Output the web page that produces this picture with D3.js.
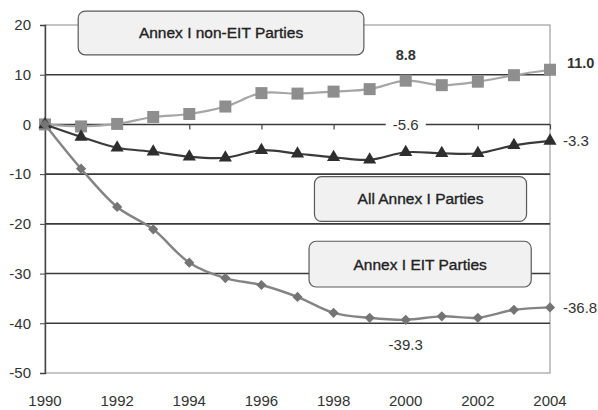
<!DOCTYPE html>
<html lang="en">
<head>
    <meta charset="utf-8">
    <script src="https://d3js.org/d3.v7.min.js"></script>
    <style>
        body { margin: 0; background: #fff; }
        text { font-family: "Liberation Sans", Arial, sans-serif; }
    </style>
</head>
<body>
    <div id="graph"></div>
    <script>
        // data
        var years = [1990, 1991, 1992, 1993, 1994, 1995, 1996, 1997, 1998, 1999, 2000, 2001, 2002, 2003, 2004];
        var nonEit = [0, -0.4, 0.1, 1.5, 2.1, 3.6, 6.3, 6.2, 6.6, 7.1, 8.8, 7.9, 8.6, 9.9, 11.0];
        var allAnnex = [0, -2.5, -4.7, -5.5, -6.5, -6.7, -5.2, -5.9, -6.6, -7.1, -5.6, -5.8, -5.8, -4.2, -3.3];
        var eit = [0, -8.9, -16.6, -21.1, -27.8, -30.9, -32.3, -34.7, -37.9, -38.9, -39.3, -38.6, -38.9, -37.3, -36.8];
        var yTicks = [20, 10, 0, -10, -20, -30, -40, -50];
        var xTicks = [1990, 1992, 1994, 1996, 1998, 2000, 2002, 2004];

        var width = 598,
            height = 410,
            margin = { top: 25, right: 48, bottom: 37, left: 45 };

        var svg = d3.select("#graph").append("svg")
            .attr("width", width)
            .attr("height", height);

        var x = d3.scaleLinear()
            .domain([1990, 2004])
            .range([margin.left, width - margin.right]);

        var y = d3.scaleLinear()
            .domain([-50, 20])
            .range([height - margin.bottom, margin.top]);

        // plot frame (light) and gridlines (dark)
        svg.append("rect")
            .attr("x", x(1990)).attr("y", y(20))
            .attr("width", x(2004) - x(1990)).attr("height", y(-50) - y(20))
            .attr("fill", "none").attr("stroke", "#a0a0a0").attr("stroke-width", 1.2);

        svg.append("g")
            .selectAll("line")
            .data(yTicks.filter(d => d < 20 && d > -50))
            .enter().append("line")
            .attr("x1", x(1990)).attr("x2", x(2004))
            .attr("y1", d => y(d)).attr("y2", d => y(d))
            .attr("stroke", "#3a3a3a").attr("stroke-width", 1.6);

        // y axis, plain hyphen for negatives like the original
        var yAxis = svg.append("g")
            .attr("transform", "translate(" + x(1990) + ",0)")
            .call(d3.axisLeft(y).tickValues(yTicks).tickSize(5).tickPadding(9).tickFormat(d => String(d)));
        yAxis.select(".domain").attr("stroke", "#444").attr("stroke-width", 1.4);
        yAxis.selectAll(".tick line").attr("stroke", "#444");
        yAxis.selectAll("text").attr("font-size", 15).attr("fill", "#333")
            .style("font-family", "'Liberation Sans', Arial, sans-serif");

        // x axis ticks along the zero line, labels at the bottom
        var xAxis = svg.append("g")
            .attr("transform", "translate(0," + y(0) + ")")
            .call(d3.axisBottom(x).tickValues(xTicks).tickSize(5).tickFormat(""));
        xAxis.select(".domain").remove();
        xAxis.selectAll(".tick line").attr("stroke", "#444").attr("stroke-width", 1.2);

        svg.append("g")
            .selectAll("text")
            .data(xTicks)
            .enter().append("text")
            .attr("x", d => x(d))
            .attr("y", height - 4)
            .attr("text-anchor", "middle")
            .attr("font-size", 15)
            .attr("fill", "#333")
            .text(d => d);

        var line = d3.line()
            .x((d, i) => x(years[i]))
            .y(d => y(d))
            .curve(d3.curveCatmullRom.alpha(0.5));

        // non-EIT series: squares
        svg.append("path")
            .datum(nonEit)
            .attr("d", line)
            .attr("fill", "none").attr("stroke", "#a6a6a6").attr("stroke-width", 2.2);
        svg.append("g")
            .selectAll("rect")
            .data(nonEit)
            .enter().append("rect")
            .attr("x", (d, i) => x(years[i]) - 6)
            .attr("y", d => y(d) - 6)
            .attr("width", 12).attr("height", 12)
            .attr("fill", "#8e8e8e");

        // all Annex I: triangles
        svg.append("path")
            .datum(allAnnex)
            .attr("d", line)
            .attr("fill", "none").attr("stroke", "#3a3a3a").attr("stroke-width", 2.2);
        svg.append("g")
            .selectAll("path")
            .data(allAnnex)
            .enter().append("path")
            .attr("d", d3.symbol().type(d3.symbolTriangle).size(75))
            .attr("transform", (d, i) => "translate(" + x(years[i]) + "," + y(d) + ")")
            .attr("fill", "#2e2e2e");

        // EIT: diamonds
        svg.append("path")
            .datum(eit)
            .attr("d", line)
            .attr("fill", "none").attr("stroke", "#848484").attr("stroke-width", 2.4);
        svg.append("g")
            .selectAll("path")
            .data(eit)
            .enter().append("path")
            .attr("d", d3.symbol().type(d3.symbolSquare).size(52))
            .attr("transform", (d, i) => "translate(" + x(years[i]) + "," + y(d) + ") rotate(45)")
            .attr("fill", "#747474");

        // value labels
        var labels = [
            { t: "8.8", yr: 2000, v: nonEit[10], dy: -26, anchor: "middle", bold: true },
            { t: "11.0", yr: 2004, v: nonEit[14], dy: -7, dx: 17, anchor: "start", bold: true },
            { t: "-3.3", yr: 2004, v: allAnnex[14], dy: 0, dx: 13, anchor: "start" },
            { t: "-36.8", yr: 2004, v: eit[14], dy: 0, dx: 13, anchor: "start" },
            { t: "-39.3", yr: 2000, v: eit[10], dy: 25, anchor: "middle" }
        ];
        svg.append("g")
            .selectAll("text")
            .data(labels)
            .enter().append("text")
            .attr("x", d => x(d.yr) + (d.dx || 0))
            .attr("y", d => y(d.v) + d.dy)
            .attr("dy", "0.35em")
            .attr("text-anchor", d => d.anchor)
            .attr("font-size", d => d.bold ? 14.5 : 15)
            .attr("font-weight", d => d.bold ? "bold" : "normal")
            .attr("fill", "#333")
            .text(d => d.t);

        // -5.6 sits on the zero line with a white patch behind it
        var g56 = svg.append("g").attr("transform", "translate(" + x(2000) + "," + y(0) + ")");
        g56.append("rect").attr("x", -20).attr("y", -8).attr("width", 40).attr("height", 16).attr("fill", "#fff");
        g56.append("text").attr("text-anchor", "middle").attr("dy", "0.35em")
            .attr("font-size", 15).attr("fill", "#333").text("-5.6");

        // series name boxes
        var boxes = [
            { t: "Annex I non-EIT Parties", x0: 1990.92, x1: 1998.84, v0: 22.8, v1: 14 },
            { t: "All Annex I Parties", x0: 1997.47, x1: 2003.35, v0: -10.5, v1: -19.5 },
            { t: "Annex I EIT Parties", x0: 1997.32, x1: 2003.48, v0: -23.5, v1: -32.7 }
        ];
        var bg = svg.append("g")
            .selectAll("g")
            .data(boxes)
            .enter().append("g");
        bg.append("rect")
            .attr("x", d => x(d.x0)).attr("y", d => y(d.v0))
            .attr("width", d => x(d.x1) - x(d.x0)).attr("height", d => y(d.v1) - y(d.v0))
            .attr("rx", 7).attr("ry", 7)
            .attr("fill", "#f1f1f1").attr("stroke", "#5a5a5a").attr("stroke-width", 1.2);
        bg.append("text")
            .attr("x", d => (x(d.x0) + x(d.x1)) / 2)
            .attr("y", d => (y(d.v0) + y(d.v1)) / 2)
            .attr("dy", "0.35em")
            .attr("text-anchor", "middle")
            .attr("font-size", 15.5)
            .attr("fill", "#222")
            .attr("stroke", "#222")
            .attr("stroke-width", 0.35)
            .text(d => d.t);
    </script>
</body>
</html>
